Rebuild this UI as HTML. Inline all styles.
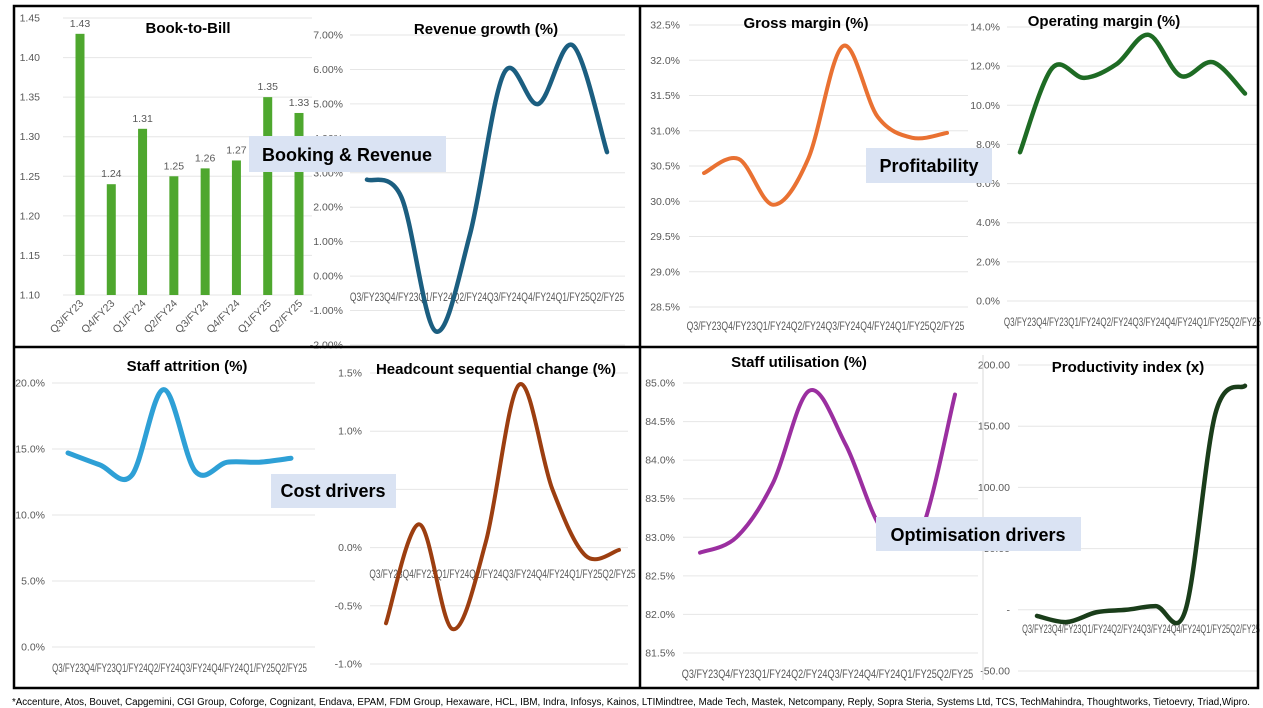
<!DOCTYPE html>
<html><head><meta charset="utf-8">
<style>
html,body{margin:0;padding:0;background:#fff;}
svg{display:block;font-family:"Liberation Sans",sans-serif;}
.tick{fill:#595959;font-size:10.5px;}
.xt{fill:#595959;font-size:11.5px;}
.title{font-weight:bold;font-size:15px;fill:#000;}
.grid{stroke:#e6e6e6;stroke-width:1;}
.box{fill:#dae3f3;}
.boxt{font-weight:bold;font-size:18px;fill:#000;}
</style></head>
<body>
<svg id="root" width="1263" height="708" viewBox="0 0 1263 708">
<g id="charts"></g>
<g fill="none" stroke="#000" stroke-width="2.5">
<rect x="14" y="6" width="1244" height="682"/>
<line x1="640" y1="6" x2="640" y2="688"/>
<line x1="14" y1="347" x2="1258" y2="347"/>
</g>
<g><rect class="box" x="249" y="136" width="197" height="36"/><text class="boxt" x="347" y="161" text-anchor="middle">Booking &amp; Revenue</text></g>
<g><rect class="box" x="866" y="148" width="126" height="35"/><text class="boxt" x="929" y="172" text-anchor="middle">Profitability</text></g>
<g><rect class="box" x="271" y="474" width="125" height="34"/><text class="boxt" x="333" y="497" text-anchor="middle">Cost drivers</text></g>
<g><rect class="box" x="876" y="517" width="205" height="34"/><text class="boxt" x="978" y="541" text-anchor="middle">Optimisation drivers</text></g>
<text x="12" y="705" font-size="10" fill="#000" textLength="1238" lengthAdjust="spacingAndGlyphs">*Accenture, Atos, Bouvet, Capgemini, CGI Group, Coforge, Cognizant, Endava, EPAM, FDM Group, Hexaware, HCL, IBM, Indra, Infosys, Kainos, LTIMindtree, Made Tech, Mastek, Netcompany, Reply, Sopra Steria, Systems Ltd, TCS, TechMahindra, Thoughtworks, Tietoevry, Triad,Wipro.</text>
</svg>
<script>
const quarters = ["Q3/FY23","Q4/FY23","Q1/FY24","Q2/FY24","Q3/FY24","Q4/FY24","Q1/FY25","Q2/FY25"];
const bookToBill = [1.43,1.24,1.31,1.25,1.26,1.27,1.35,1.33];
const bookTicks = [1.10,1.15,1.20,1.25,1.30,1.35,1.40,1.45];
const revenueGrowth = [2.8,2.3,-1.6,1.2,5.9,5.0,6.7,3.6];
const revenueTicks = [-2,-1,0,1,2,3,4,5,6,7];
const grossMargin = [30.4,30.6,29.95,30.6,32.2,31.2,30.9,30.97];
const grossTicks = [28.5,29.0,29.5,30.0,30.5,31.0,31.5,32.0,32.5];
const opMargin = [7.6,11.9,11.4,12.1,13.6,11.5,12.2,10.6];
const opTicks = [0,2,4,6,8,10,12,14];
const attrition = [14.7,13.8,13.0,19.5,13.3,14.0,14.0,14.3];
const attritionTicks = [0,5,10,15,20];
const headcount = [-0.65,0.2,-0.7,0.05,1.4,0.5,-0.07,-0.02];
const headcountTicks = [-1.0,-0.5,0.0,0.5,1.0,1.5];
const utilisation = [82.8,83.0,83.7,84.9,84.2,83.1,83.0,84.85];
const utilTicks = [81.5,82.0,82.5,83.0,83.5,84.0,84.5,85.0];
const productivity = [-5,-10,-2,0,3,0,160,183];
const prodTicks = [-50,0,50,100,150,200];

const NS="http://www.w3.org/2000/svg";
const root=document.getElementById('charts');
function el(tag,attrs,parent){const e=document.createElementNS(NS,tag);for(const k in attrs)e.setAttribute(k,attrs[k]);(parent||root).appendChild(e);return e;}
function scale(d0,d1,r0,r1){return v=>r0+(v-d0)*(r1-r0)/(d1-d0);}
function smooth(pts){let d=`M${pts[0][0]},${pts[0][1]}`;for(let i=0;i<pts.length-1;i++){const p0=pts[i-1]||pts[i],p1=pts[i],p2=pts[i+1],p3=pts[i+2]||p2;const c1=[p1[0]+(p2[0]-p0[0])/6,p1[1]+(p2[1]-p0[1])/6],c2=[p2[0]-(p3[0]-p1[0])/6,p2[1]-(p3[1]-p1[1])/6];d+=` C${c1[0]},${c1[1]} ${c2[0]},${c2[1]} ${p2[0]},${p2[1]}`;}return d;}

function lineChart(c){
  const g=el('g',{});
  
  
  const y=scale(c.t0,c.t1,c.y0,c.y1);
  const x=scale(0,7,c.px0,c.px1);
  c.ticks.forEach(t=>{
    const gl=el('line',{class:'grid',x1:c.gx0,x2:c.gx1,y1:y(t),y2:y(t)},g);
    
    
    const tx=el('text',{class:'tick',x:c.lx,y:y(t)+3.5,'text-anchor':'end'},g);
    
    
    tx.textContent=c.fmt(t);
  });
  const sp=(c.px1-c.px0)/7;
  quarters.forEach((q,i)=>{
    const tx=el('text',{class:'xt',x:x(i),y:c.xly,'text-anchor':'middle',textLength:sp,lengthAdjust:'spacingAndGlyphs'},g);
    
    
    tx.textContent=q;
  });
  const pts=c.data.map((v,i)=>[x(i),y(v)]);
  const p=el('path',{d:smooth(pts),fill:'none',stroke:c.color,'stroke-width':c.sw||4,'stroke-linecap':'round'},g);
  
  
  const tt=el('text',{class:'title',x:c.tx,y:c.ty,'text-anchor':'middle'},g);
  
  
  tt.textContent=c.title;
}

(function(){
  const g=el('g',{});
  
  
  const y=scale(1.10,1.45,295,18);
  const x=scale(0,7,80,299);
  bookTicks.forEach(t=>{
    const gl=el('line',{class:'grid',x1:63,x2:312,y1:y(t),y2:y(t)},g);
    
    
    const tx=el('text',{class:'tick',x:40,y:y(t)+3.5,'text-anchor':'end'},g);
    
    
    tx.textContent=t.toFixed(2);
  });
  bookToBill.forEach((v,i)=>{
    const b=el('rect',{x:x(i)-4.5,y:y(v),width:9,height:y(1.10)-y(v),fill:'#4ea72e'},g);
    
    
    const lb=el('text',{class:'tick',x:x(i),y:y(v)-7,'text-anchor':'middle','font-size':'9'},g);
    
    
    lb.textContent=v.toFixed(2);
    const xl=el('text',{class:'tick',x:x(i)+4,y:304,'text-anchor':'end',transform:`rotate(-45 ${x(i)+4} 304)`},g);
    
    
    xl.textContent=quarters[i];
  });
  const tt=el('text',{class:'title',x:188,y:33,'text-anchor':'middle'},g);
  
  
  tt.textContent='Book-to-Bill';
})();

lineChart({name:'revenue-growth-chart',title:'Revenue growth (%)',tx:486,ty:34,data:revenueGrowth,ticks:revenueTicks,t0:-2,t1:7,y0:345,y1:35,gx0:350,gx1:625,lx:343,px0:367,px1:607,xly:301,color:'#1b5e80',sw:4.5,fmt:t=>t.toFixed(2)+'%'});
lineChart({name:'gross-margin-chart',title:'Gross margin (%)',tx:806,ty:28,data:grossMargin,ticks:grossTicks,t0:28.5,t1:32.5,y0:307,y1:25,gx0:689,gx1:968,lx:680,px0:704,px1:947,xly:330,color:'#e97132',sw:4,fmt:t=>t.toFixed(1)+'%'});
lineChart({name:'operating-margin-chart',title:'Operating margin (%)',tx:1104,ty:26,data:opMargin,ticks:opTicks,t0:0,t1:14,y0:301,y1:27,gx0:1007,gx1:1258,lx:1000,px0:1020,px1:1245,xly:326,color:'#1e6b24',sw:4.5,fmt:t=>t.toFixed(1)+'%'});
lineChart({name:'staff-attrition-chart',title:'Staff attrition (%)',tx:187,ty:371,data:attrition,ticks:attritionTicks,t0:0,t1:20,y0:647,y1:383,gx0:52,gx1:315,lx:45,px0:68,px1:291,xly:672,color:'#2ea0d6',sw:5,fmt:t=>t.toFixed(1)+'%'});
lineChart({name:'headcount-change-chart',title:'Headcount sequential change (%)',tx:496,ty:374,data:headcount,ticks:headcountTicks,t0:-1,t1:1.5,y0:664,y1:373,gx0:370,gx1:628,lx:362,px0:386,px1:619,xly:578,color:'#9c3e10',sw:4,fmt:t=>t.toFixed(1)+'%'});
lineChart({name:'staff-utilisation-chart',title:'Staff utilisation (%)',tx:799,ty:367,data:utilisation,ticks:utilTicks,t0:81.5,t1:85,y0:653,y1:383,gx0:683,gx1:978,lx:675,px0:700,px1:955,xly:678,color:'#9b2fa0',sw:4,fmt:t=>t.toFixed(1)+'%'});
lineChart({name:'productivity-index-chart',title:'Productivity index (x)',tx:1128,ty:372,data:productivity,ticks:prodTicks,t0:-50,t1:200,y0:671,y1:365,gx0:1018,gx1:1258,lx:1010,px0:1037,px1:1245,xly:633,color:'#1a3d1a',sw:4.5,fmt:t=>t===0?'-':t.toFixed(2)});
(function(){const v=el('line',{x1:983,x2:983,y1:355,y2:680,stroke:'#d9d9d9','stroke-width':1});

})();
</script>
</body></html>
